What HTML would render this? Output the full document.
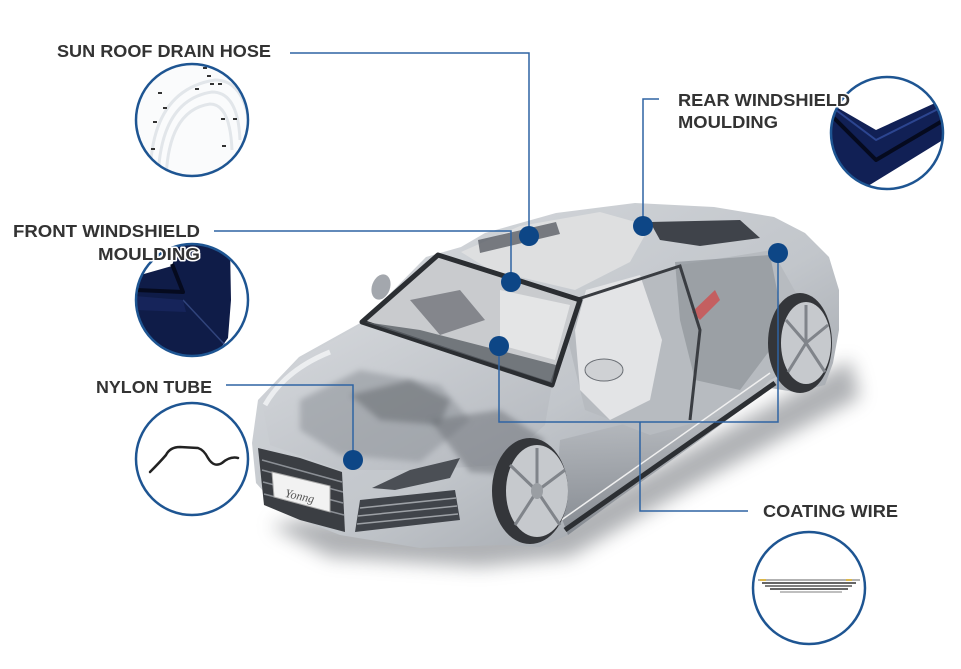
<!DOCTYPE html>
<html><head><meta charset="utf-8"><style>
html,body{margin:0;padding:0;background:#fff;}
svg{display:block;}
text{font-family:"Liberation Sans",sans-serif;font-weight:bold;fill:#333;stroke:#fff;stroke-width:3px;paint-order:stroke;stroke-linejoin:round;}
</style></head><body>
<svg width="961" height="669" viewBox="0 0 961 669" xmlns="http://www.w3.org/2000/svg">
<defs>
  <linearGradient id="body" x1="0" y1="0" x2="1" y2="1">
    <stop offset="0" stop-color="#d9dce0"/>
    <stop offset="0.55" stop-color="#c2c6cb"/>
    <stop offset="1" stop-color="#8e939a"/>
  </linearGradient>
  <linearGradient id="hood" x1="0" y1="0" x2="1" y2="1">
    <stop offset="0" stop-color="#d6d9dd"/>
    <stop offset="1" stop-color="#b3b7bd"/>
  </linearGradient>
  <linearGradient id="side" x1="0" y1="0" x2="0" y2="1">
    <stop offset="0" stop-color="#c9ccd0"/>
    <stop offset="1" stop-color="#7f848b"/>
  </linearGradient>
  <filter id="blur" x="-20%" y="-20%" width="140%" height="140%"><feGaussianBlur stdDeviation="9"/></filter>
  <filter id="blur2" x="-20%" y="-20%" width="140%" height="140%"><feGaussianBlur stdDeviation="3"/></filter>
  <clipPath id="c1"><circle cx="192" cy="120" r="56"/></clipPath>
  <clipPath id="c2"><circle cx="192" cy="300" r="56"/></clipPath>
  <clipPath id="c4"><circle cx="887" cy="133" r="56"/></clipPath>
</defs>

<!-- shadow -->
<polygon points="270,525 330,557 480,567 570,557 700,482 860,397 850,360 780,400 560,520 300,520" fill="#6e7278" opacity="0.55" filter="url(#blur)"/>

<!-- car body -->
<polygon points="258,400 299,357 362,322 426,257 461,247 485,233 556,213 635,203 714,207 774,217 805,233 829,257 839,290 839,330 833,363 825,385 795,392 770,388 700,440 620,497 568,535 540,547 500,545 420,548 340,535 282,512 256,483 252,443" fill="url(#body)"/>

<!-- lower side panel -->
<polygon points="560,440 640,420 730,400 780,375 770,388 700,440 620,497 568,535 555,500" fill="url(#side)" opacity="0.85"/>

<!-- hood / engine -->
<polygon points="262,402 299,360 362,324 552,385 545,425 500,465 420,470 340,470 270,445" fill="url(#hood)"/>
<polygon points="300,400 360,370 440,385 470,420 420,462 340,455 300,430" fill="#8d9298" opacity="0.55" filter="url(#blur2)"/>
<polygon points="350,395 410,380 450,400 440,425 380,420" fill="#5a5e64" opacity="0.45" filter="url(#blur2)"/>
<polygon points="430,420 500,410 545,440 520,475 470,472" fill="#6a6e74" opacity="0.5" filter="url(#blur2)"/>
<path d="M265,405 Q285,370 330,352" stroke="#f4f5f6" stroke-width="5" fill="none" opacity="0.8"/>

<!-- roof / interior -->
<polygon points="461,252 520,226 600,212 650,226 630,262 575,290 490,270" fill="#dedfe0"/>
<polygon points="478,240 556,222 560,234 480,253" fill="#5b5f66" opacity="0.8"/>
<polygon points="650,222 740,220 760,238 700,246 660,240" fill="#3f434a"/>
<polygon points="575,300 680,265 772,250 800,300 785,365 740,410 650,435 585,410 568,340" fill="#b7bbc0"/>
<polygon points="586,290 640,275 662,340 650,400 610,420 580,390 575,330" fill="#e3e4e6"/>
<polygon points="675,262 770,255 785,330 740,390 695,380 680,320" fill="#8f949a" opacity="0.7"/>
<path d="M692,312 L715,290 L720,300 L700,320 Z" fill="#d24a4a" opacity="0.75"/>
<path d="M575,300 L680,266 L700,330 L690,420" stroke="#3a3d42" stroke-width="3" fill="none"/>

<!-- windshield -->
<polygon points="438,255 580,300 552,385 362,322" fill="#c9cbce" stroke="#2b2e32" stroke-width="5" stroke-linejoin="round"/>
<polygon points="365,322 552,383 556,365 420,330" fill="#5d6168" opacity="0.8"/>
<polygon points="500,290 570,305 555,360 500,345" fill="#e4e5e6"/>
<polygon points="410,300 460,290 485,320 440,335" fill="#4b4f55" opacity="0.55"/>

<!-- mirrors -->
<ellipse cx="381" cy="287" rx="9" ry="13" fill="#a3a7ad" transform="rotate(20 381 287)"/>
<ellipse cx="604" cy="370" rx="19" ry="11" fill="#cfd1d4" stroke="#6a6e74" stroke-width="1"/>

<!-- side sill -->
<path d="M565,530 L775,383" stroke="#2c2f33" stroke-width="5"/>
<path d="M560,521 L770,373" stroke="#f0f0f0" stroke-width="1.5"/>

<!-- front wheel -->
<ellipse cx="530" cy="491" rx="38" ry="53" fill="#34363a"/>
<ellipse cx="537" cy="491" rx="31" ry="46" fill="#c6c9cd"/>
<g stroke="#80848a" stroke-width="3">
<line x1="537" y1="491" x2="537" y2="448"/><line x1="537" y1="491" x2="565" y2="470"/>
<line x1="537" y1="491" x2="560" y2="525"/><line x1="537" y1="491" x2="515" y2="525"/>
<line x1="537" y1="491" x2="510" y2="465"/>
</g>
<ellipse cx="537" cy="491" rx="6" ry="8" fill="#9a9ea3"/>

<!-- rear wheel -->
<ellipse cx="800" cy="343" rx="32" ry="50" fill="#34363a"/>
<ellipse cx="806" cy="343" rx="25" ry="41" fill="#c6c9cd"/>
<g stroke="#80848a" stroke-width="3">
<line x1="806" y1="343" x2="806" y2="305"/><line x1="806" y1="343" x2="828" y2="325"/>
<line x1="806" y1="343" x2="825" y2="372"/><line x1="806" y1="343" x2="788" y2="372"/>
<line x1="806" y1="343" x2="786" y2="320"/>
</g>

<!-- grille -->
<polygon points="258,448 300,458 342,472 345,532 300,520 264,505" fill="#3b3e43"/>
<g stroke="#8b8f95" stroke-width="1.5">
<line x1="262" y1="460" x2="342" y2="482"/><line x1="262" y1="470" x2="343" y2="492"/>
<line x1="263" y1="482" x2="343" y2="503"/><line x1="264" y1="494" x2="344" y2="515"/>
</g>
<polygon points="272,472 330,486 330,512 274,497" fill="#f2f2f2" stroke="#aaa" stroke-width="1"/>
<text x="285" y="500" style="font-family:'Liberation Serif',serif;font-style:italic;font-weight:normal;font-size:12px;fill:#555;stroke:none" transform="rotate(12 300 496)">Yonng</text>

<!-- headlight & intake -->
<polygon points="372,488 410,470 460,458 450,478 395,490" fill="#4b4f55"/>
<polygon points="360,500 455,490 460,520 355,532" fill="#40444a"/>
<g stroke="#9da1a6" stroke-width="1.5">
<line x1="360" y1="508" x2="456" y2="498"/><line x1="358" y1="516" x2="457" y2="506"/><line x1="357" y1="524" x2="458" y2="514"/>
</g>

<!-- connector lines -->
<g stroke="#2f64a3" stroke-width="1.5" fill="none">
<polyline points="290,53 529,53 529,236"/>
<polyline points="214,231 511,231 511,282"/>
<polyline points="659,99 643,99 643,226"/>
<polyline points="226,385 353,385 353,460"/>
<polyline points="499,346 499,422 778,422 778,253"/>
<polyline points="640,422 640,511 748,511"/>
</g>

<!-- dots -->
<g fill="#0d4686">
<circle cx="529" cy="236" r="10"/>
<circle cx="511" cy="282" r="10"/>
<circle cx="643" cy="226" r="10"/>
<circle cx="778" cy="253" r="10"/>
<circle cx="499" cy="346" r="10"/>
<circle cx="353" cy="460" r="10"/>
</g>

<!-- circle 1: sun roof drain hose -->
<circle cx="192" cy="120" r="56" fill="#fafbfc"/>
<g clip-path="url(#c1)" fill="none" stroke="#e2e6ea" stroke-width="3">
<path d="M150,180 Q150,90 215,80 Q245,80 250,130"/>
<path d="M158,180 Q160,100 212,92 Q238,92 240,140"/>
<path d="M166,180 Q168,110 210,104 Q230,104 232,150"/>
</g>
<g fill="#333">
<rect x="203" y="67" width="4" height="2"/><rect x="207" y="75" width="4" height="2"/>
<rect x="210" y="83" width="4" height="2"/><rect x="218" y="83" width="4" height="2"/>
<rect x="158" y="92" width="4" height="2"/><rect x="195" y="88" width="4" height="2"/>
<rect x="163" y="107" width="4" height="2"/><rect x="153" y="121" width="4" height="2"/>
<rect x="221" y="118" width="4" height="2"/><rect x="233" y="118" width="4" height="2"/>
<rect x="151" y="148" width="4" height="2"/><rect x="222" y="145" width="4" height="2"/>
</g>
<circle cx="192" cy="120" r="56" fill="none" stroke="#1e5592" stroke-width="2.5"/>

<!-- circle 2: front windshield moulding -->
<circle cx="192" cy="300" r="56" fill="#fff"/>
<g clip-path="url(#c2)">
<polygon points="130,278 172,266 178,245 230,245 231,300 228,338 215,356 130,360" fill="#0f1c48"/>
<polyline points="135,290 183,292 172,264" fill="none" stroke="#050a1e" stroke-width="4" stroke-linejoin="round"/>
<line x1="183" y1="300" x2="225" y2="345" stroke="#3a4f8a" stroke-width="1.5" opacity="0.8"/>
<polygon points="135,296 183,300 186,312 135,310" fill="#16245a"/>
</g>
<circle cx="192" cy="300" r="56" fill="none" stroke="#1e5592" stroke-width="2.5"/>

<!-- circle 3: nylon tube -->
<circle cx="192" cy="459" r="56" fill="#fff" stroke="#1e5592" stroke-width="2.5"/>
<path d="M150,472 Q160,462 166,455 Q170,447 180,447 L198,448 Q204,450 208,458 Q214,468 222,463 Q230,456 238,458" fill="none" stroke="#222" stroke-width="2.5" stroke-linecap="round"/>

<!-- circle 4: rear windshield moulding -->
<circle cx="887" cy="133" r="56" fill="#fff"/>
<g clip-path="url(#c4)">
<polygon points="826,104 838,108 876,130 946,98 946,138 868,186 866,200 826,200" fill="#112055"/>
<polyline points="834,118 876,160 944,120" fill="none" stroke="#050a1e" stroke-width="4" stroke-linejoin="round"/>
<polyline points="836,110 876,140 944,106" fill="none" stroke="#2c4590" stroke-width="2" stroke-linejoin="round"/>
</g>
<circle cx="887" cy="133" r="56" fill="none" stroke="#1e5592" stroke-width="2.5"/>

<!-- circle 5: coating wire -->
<circle cx="809" cy="588" r="56" fill="#fff" stroke="#1e5592" stroke-width="2.5"/>
<g stroke-width="1.5">
<line x1="758" y1="580" x2="860" y2="580" stroke="#999"/>
<line x1="762" y1="583" x2="856" y2="583" stroke="#333"/>
<line x1="765" y1="586" x2="852" y2="586" stroke="#555"/>
<line x1="770" y1="589" x2="848" y2="589" stroke="#333"/>
<line x1="780" y1="592" x2="842" y2="592" stroke="#aaa"/>
<line x1="760" y1="580" x2="766" y2="580" stroke="#e0b020"/>
<line x1="846" y1="580" x2="852" y2="580" stroke="#e0b020"/>
</g>

<!-- labels -->
<text x="57" y="57" font-size="17.5" textLength="214" lengthAdjust="spacingAndGlyphs">SUN ROOF DRAIN HOSE</text>
<text x="13" y="237" font-size="17.5" textLength="187" lengthAdjust="spacingAndGlyphs">FRONT WINDSHIELD</text>
<text x="98" y="260" font-size="17.5" textLength="102" lengthAdjust="spacingAndGlyphs">MOULDING</text>
<text x="678" y="106" font-size="17.5" textLength="172" lengthAdjust="spacingAndGlyphs">REAR WINDSHIELD</text>
<text x="678" y="128" font-size="17.5" textLength="100" lengthAdjust="spacingAndGlyphs">MOULDING</text>
<text x="96" y="393" font-size="17.5" textLength="116" lengthAdjust="spacingAndGlyphs">NYLON TUBE</text>
<text x="763" y="517" font-size="17.5" textLength="135" lengthAdjust="spacingAndGlyphs">COATING WIRE</text>
</svg>
</body></html>
